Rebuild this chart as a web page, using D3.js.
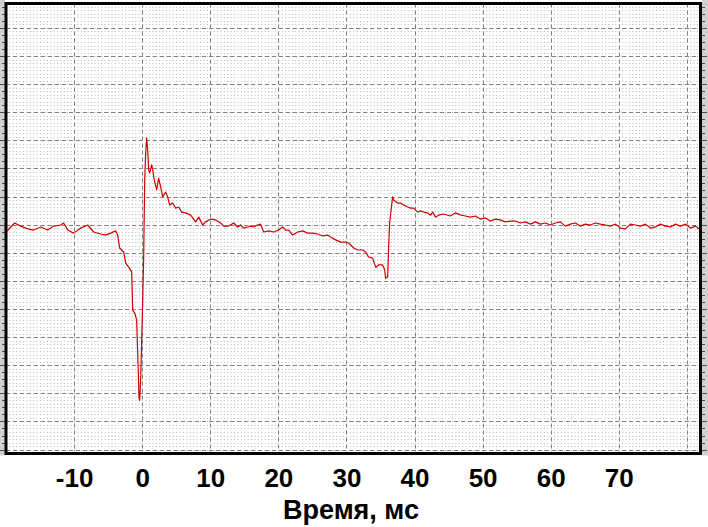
<!DOCTYPE html>
<html><head><meta charset="utf-8">
<script src="https://cdn.jsdelivr.net/npm/d3@7"></script>
<style>html,body{margin:0;padding:0;background:#fff;}svg{display:block;}</style>
</head><body><svg id="c" width="708" height="527"></svg>
<script>
const tickLabels = [-10, 0, 10, 20, 30, 40, 50, 60, 70];
const xLabel = "Время, мс";
const timeMs = [-20.0,-18.72,-17.84,-16.81,-15.93,-14.90,-13.88,-13.00,-11.97,-11.53,-10.94,-10.06,-9.03,-8.00,-7.12,-6.09,-5.36,-4.63,-3.89,-3.60,-3.30,-2.72,-2.42,-1.98,-1.54,-1.40,-1.10,-0.81,-0.66,-0.56,-0.47,-0.37,-0.22,-0.07,0.07,0.22,0.37,0.51,0.66,0.81,0.95,1.10,1.40,1.54,1.84,2.13,2.42,2.72,3.01,3.45,3.74,4.04,4.48,4.92,5.36,5.80,6.39,7.12,7.86,8.30,8.88,9.32,10.06,10.79,11.53,11.97,12.70,13.44,14.02,14.46,14.90,15.49,15.93,16.37,16.96,17.40,17.84,18.58,19.31,20.04,20.63,21.07,21.51,22.10,22.83,23.57,24.30,25.04,25.77,26.51,27.24,27.68,28.41,29.15,29.88,30.32,30.62,31.06,31.64,32.38,32.82,33.26,33.85,34.29,34.73,35.32,35.61,35.76,36.05,36.20,36.34,36.78,36.93,37.52,37.96,38.40,38.99,39.43,39.87,40.46,40.90,41.34,41.92,42.36,42.66,43.10,43.54,44.27,45.26,45.99,46.73,47.46,48.20,48.93,49.67,50.40,51.13,51.87,52.60,53.34,54.07,54.81,55.54,56.28,57.01,57.75,58.48,59.22,59.95,60.69,61.42,62.16,62.89,63.63,64.36,65.10,65.83,66.57,67.30,68.04,68.77,69.51,70.24,70.97,71.71,72.44,73.18,73.91,74.65,75.38,76.12,76.85,77.59,78.32,79.06,79.79,80.53,81.26,82.0];
const signal = [-0.26,0.06,-0.05,-0.15,-0.19,-0.08,-0.19,-0.05,-0.01,0.06,-0.19,-0.30,-0.12,-0.01,-0.26,-0.33,-0.37,-0.30,-0.22,-0.37,-0.83,-0.97,-1.37,-1.51,-1.68,-3.04,-3.14,-3.39,-4.57,-5.29,-6.14,-6.25,-5.53,-4.09,-2.79,-1.15,1.60,2.56,3.09,2.66,1.95,1.84,2.13,1.95,1.52,1.24,1.66,1.34,0.99,1.16,0.99,0.70,0.77,0.59,0.63,0.45,0.42,0.34,0.10,0.27,-0.01,0.10,0.20,0.17,0.06,-0.05,-0.05,0.06,-0.08,-0.01,-0.12,-0.08,-0.05,-0.08,-0.01,0.02,-0.26,-0.22,-0.26,-0.19,-0.08,-0.19,-0.19,-0.37,-0.26,-0.22,-0.30,-0.30,-0.33,-0.40,-0.37,-0.44,-0.54,-0.62,-0.62,-0.65,-0.72,-0.83,-0.90,-0.90,-0.97,-1.15,-1.19,-1.51,-1.43,-1.43,-1.60,-1.90,-1.86,-0.79,0.06,0.99,0.88,0.77,0.77,0.70,0.63,0.59,0.59,0.45,0.49,0.45,0.42,0.34,0.45,0.27,0.34,0.38,0.31,0.42,0.35,0.31,0.27,0.31,0.20,0.24,0.13,0.20,0.17,0.10,0.13,0.13,0.06,0.10,0.02,0.10,0.02,0.06,-0.01,0.06,0.10,-0.05,0.02,0.06,-0.05,0.02,-0.01,0.06,0.02,-0.01,-0.05,0.02,-0.12,-0.15,0.02,-0.01,-0.05,0.02,-0.12,-0.08,0.02,-0.05,-0.08,0.02,-0.05,0.02,-0.12,-0.05,-0.19];

const svg = d3.select("#c");
const L = 6, R = 700.5, T = 3.5, B = 453.5;
const x = d3.scaleLinear().domain([-20, 82]).range([L, R]);
const y = d3.scaleLinear().domain([-8.14, 7.87]).range([B, T]);

// side strips
svg.append("rect").attr("x",0).attr("y",0).attr("width",5).attr("height",B+2).attr("fill","#d0d0d0");
svg.append("rect").attr("x",702).attr("y",0).attr("width",6).attr("height",B+2).attr("fill","#d0d0d0");

// minor dotted grid (dots at minor intersections)
const minorY = d3.range(-8.125, 7.87, 0.125);
const dx = x(0.5) - x(0);
svg.append("g").selectAll("line").data(minorY).join("line")
  .attr("x1", L).attr("x2", R)
  .attr("y1", d => Math.round(y(d)) + 0.5).attr("y2", d => Math.round(y(d)) + 0.5)
  .attr("stroke", "#b8b8b8").attr("stroke-width", 1)
  .attr("stroke-dasharray", `1,${(dx-1).toFixed(3)}`);

// major dashed grid
const gx = d3.range(-10, 81, 10);
const gy = d3.range(-8, 8, 1);
svg.append("g").selectAll("line").data(gx).join("line")
  .attr("x1", d => Math.round(x(d)) + 0.5).attr("x2", d => Math.round(x(d)) + 0.5)
  .attr("y1", T).attr("y2", B)
  .attr("stroke", "#808080").attr("stroke-width", 1).attr("stroke-dasharray", "4,3");
svg.append("g").selectAll("line").data(gy).join("line")
  .attr("x1", L).attr("x2", R)
  .attr("y1", d => Math.round(y(d)) + 0.5).attr("y2", d => Math.round(y(d)) + 0.5)
  .attr("stroke", "#808080").attr("stroke-width", 1).attr("stroke-dasharray", "4,3");

// strip ticks
const stripTicks = d3.range(-8, 7.9, 0.25);
[[0,5],[702,707]].forEach(([a,b]) => {
  svg.append("g").selectAll("line").data(stripTicks).join("line")
    .attr("x1", d => Number.isInteger(d) ? a : (a===0 ? 2 : a))
    .attr("x2", d => Number.isInteger(d) ? b : (a===0 ? b : a+3))
    .attr("y1", d => Math.round(y(d)) + 0.5).attr("y2", d => Math.round(y(d)) + 0.5)
    .attr("stroke", "#505050").attr("stroke-width", 1);
});

// signal
const pts = timeMs.map((t, i) => [t, signal[i]]);
svg.append("path").datum(pts)
  .attr("d", d3.line().x(d => x(d[0])).y(d => y(d[1])))
  .attr("fill", "none").attr("stroke", "#d00000").attr("stroke-width", 1.2)
  .attr("stroke-linejoin", "round");

// border
svg.append("rect").attr("x", L).attr("y", T).attr("width", R - L).attr("height", B - T)
  .attr("fill", "none").attr("stroke", "#000").attr("stroke-width", 3);

// x axis labels
const ax = svg.append("g").attr("transform", `translate(0,${B})`)
  .call(d3.axisBottom(x).tickValues(tickLabels).tickSize(0).tickPadding(0).tickFormat(d3.format("d")));
ax.select(".domain").remove();
ax.selectAll("text").attr("dy", null).attr("y", 33)
  .attr("font-family", "Liberation Sans, Arial, sans-serif").attr("font-weight", "bold")
  .attr("font-size", 26).attr("fill", "#000").text(d => d < 0 ? "-" + Math.abs(d) : d);

svg.append("text").attr("x", 351).attr("y", 519).attr("text-anchor", "middle")
  .attr("font-family", "Liberation Sans, Arial, sans-serif").attr("font-weight", "bold")
  .attr("font-size", 27).attr("fill", "#000").text(xLabel);
</script></body></html>
